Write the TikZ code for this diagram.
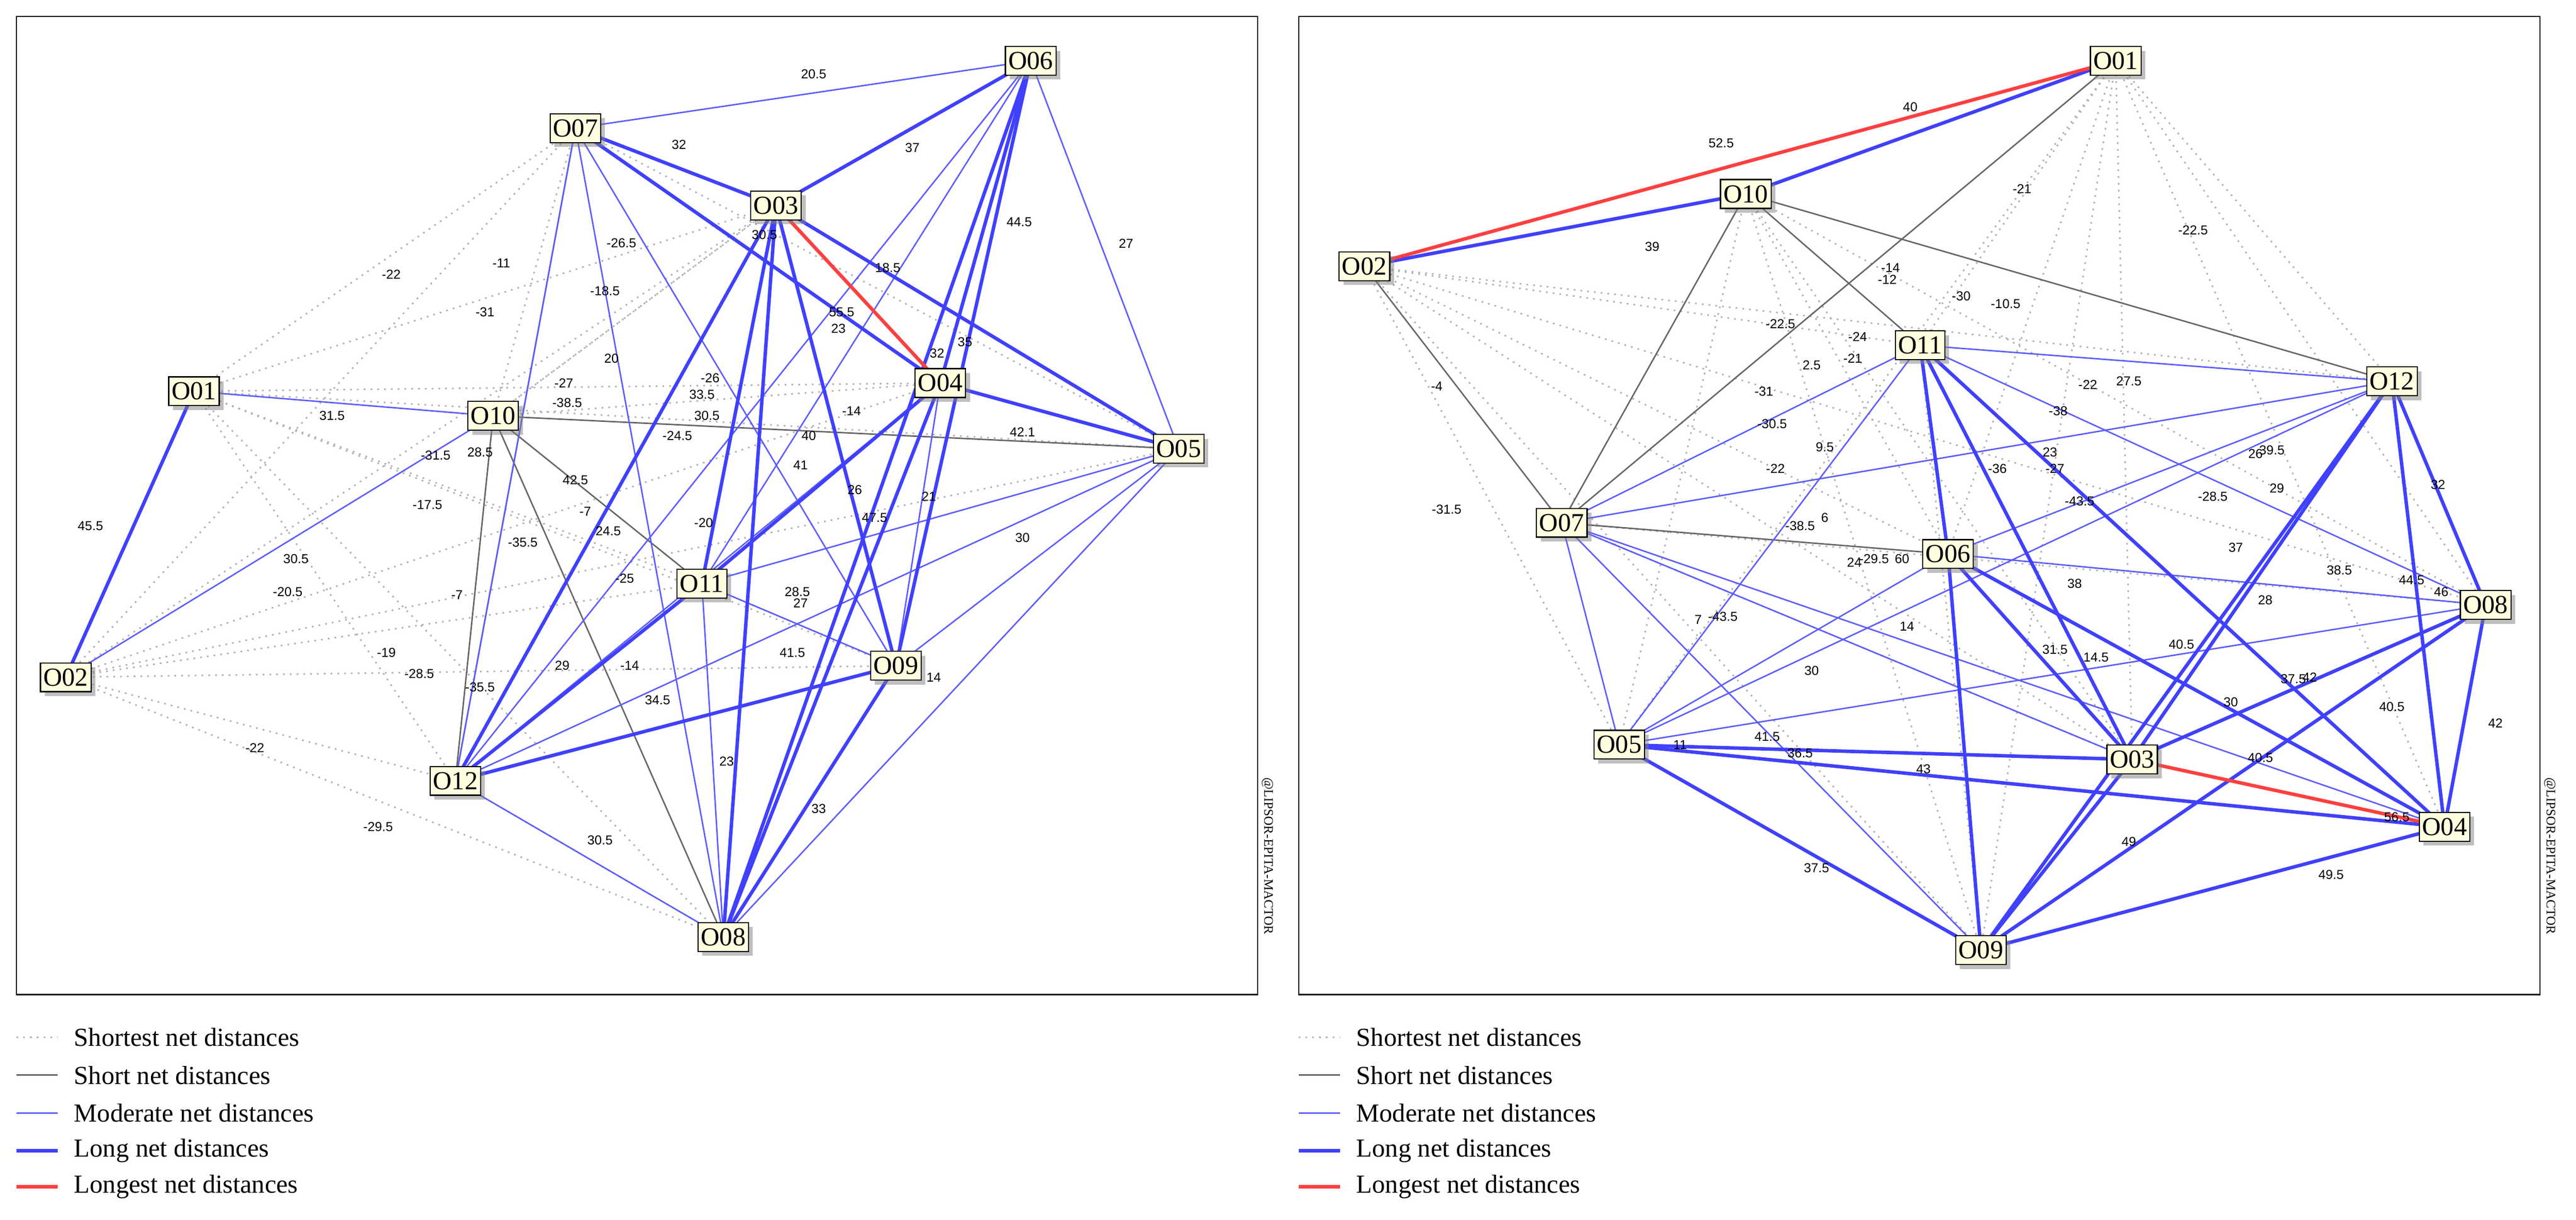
\documentclass[tikz,border=0pt]{standalone}
\usepackage{fontspec}
\setmainfont{Liberation Serif}
\newfontfamily\lblfont{Liberation Sans}
\usetikzlibrary{shadows}
\definecolor{boxfill}{HTML}{FFFFE0}
\definecolor{netblue}{HTML}{4040FF}
\definecolor{netred}{HTML}{FF4040}
\begin{document}
\begin{tikzpicture}[x=0.04cm,y=-0.04cm,
  vertex/.style={draw=black,thick,fill=boxfill,inner sep=2pt,minimum height=0.7cm,
    font=\fontsize{18}{18}\selectfont,drop shadow={shadow xshift=3pt,shadow yshift=-3pt,opacity=0.5}},
  shortest/.style={gray!60,line width=1.1pt,dash pattern=on 1.2pt off 3.5pt},
  short/.style={gray!80!black,line width=1pt},
  moderate/.style={netblue!85,line width=1pt},
  long/.style={netblue,line width=2.4pt},
  longest/.style={netred,line width=2.4pt},
  val/.style={font=\lblfont\fontsize{9}{9}\selectfont,inner sep=1pt}]
\tikzset{legtext/.style={font=\fontsize{18}{18}\selectfont,anchor=west}}
\useasboundingbox (0,0) rectangle (1567,742);
\draw[thick] (10,10) rectangle (765,605);
\draw[thick] (790,10) rectangle (1545,605);
% left panel
\node (l1) at (118,238) {};
\node (l2) at (40,412) {};
\node (l3) at (472,125) {};
\node (l4) at (572,233) {};
\node (l5) at (717,273) {};
\node (l6) at (627,37) {};
\node (l7) at (350,78) {};
\node (l8) at (440,570) {};
\node (l9) at (545,405) {};
\node (l10) at (300,253) {};
\node (l11) at (427,355) {};
\node (l12) at (277,475) {};
\foreach \a/\b in {1/7,1/3,1/4,1/11,1/12,1/8,1/9,2/7,2/3,2/4,2/11,2/9,2/12,2/8,
  7/4,7/5,10/3,10/4,12/11,3/10,7/10,11/9,2/5,1/5,12/8}
  \draw[shortest] (l\a.center) -- (l\b.center);
\foreach \a/\b in {7/12,10/5,10/11,10/8,10/12}
  \draw[short] (l\a.center) -- (l\b.center);
\foreach \a/\b in {7/6,1/10,2/10,7/8,7/9,7/12,6/11,6/12,6/5,3/5,5/11,5/12,5/8,5/9,
  11/9,12/8,11/8,4/12,4/9,6/9}
  \draw[moderate] (l\a.center) -- (l\b.center);
\foreach \a/\b in {1/2,7/3,7/4,3/6,3/5,6/4,6/9,6/8,4/5,4/11,4/8,3/12,3/11,3/8,3/9,11/12,12/9,9/8}
  \draw[long] (l\a.center) -- (l\b.center);
\draw[longest] (l3.center) -- (l4.center);
\node[vertex] (L01) at (l1) {O01};
\node[vertex] (L02) at (l2) {O02};
\node[vertex] (L03) at (l3) {O03};
\node[vertex] (L04) at (l4) {O04};
\node[vertex] (L05) at (l5) {O05};
\node[vertex] (L06) at (l6) {O06};
\node[vertex] (L07) at (l7) {O07};
\node[vertex] (L08) at (l8) {O08};
\node[vertex] (L09) at (l9) {O09};
\node[vertex] (L10) at (l10) {O10};
\node[vertex] (L11) at (l11) {O11};
\node[vertex] (L12) at (l12) {O12};
\foreach \x/\y/\t in {495/45/20.5,413/88/32,555/90/37,620/135/44.5,685/148/27,
  55/320/45.5,180/340/30.5,175/360/-20.5,238/167/-22,305/160/-11,295/190/-31,
  378/148/-26.5,368/177/-18.5,372/218/20,343/233/-27,345/245/-38.5,202/253/31.5,
  292/275/28.5,265/277/-31.5,260/307/-17.5,350/292/42.5,356/311/-7,370/323/24.5,
  318/330/-35.5,380/352/-25,278/362/-7,235/397/-19,255/410/-28.5,292/418/-35.5,
  342/405/29,383/405/-14,400/426/34.5,155/455/-22,230/503/-29.5,365/511/30.5,
  442/463/23,498/492/33,540/163/18.5,512/190/55.5,510/200/23,570/215/32,587/208/35,
  622/263/42.1,518/250/-14,492/265/40,487/283/41,412/265/-24.5,427/240/33.5,
  430/253/30.5,432/230/-26,520/298/26,532/315/47.5,565/302/21,622/327/30,
  428/318/-20,485/360/28.5,487/367/27,482/397/41.5,568/412/14,465/143/30.5}
  \node[val] (lv\x) at (\x,\y) {\t};
% right panel
\node (r1) at (1287,37) {};
\node (r2) at (830,162) {};
\node (r3) at (1297,462) {};
\node (r4) at (1487,503) {};
\node (r5) at (985,453) {};
\node (r6) at (1185,337) {};
\node (r7) at (950,318) {};
\node (r8) at (1512,368) {};
\node (r9) at (1205,578) {};
\node (r10) at (1062,118) {};
\node (r11) at (1168,210) {};
\node (r12) at (1455,232) {};
\foreach \a/\b in {1/11,1/6,1/3,1/12,1/8,1/4,1/5,1/9,2/11,2/6,2/12,2/5,2/3,2/8,2/9,
  10/6,10/5,10/3,10/9,10/8,7/3,11/9,12/9,7/8}
  \draw[shortest] (r\a.center) -- (r\b.center);
\foreach \a/\b in {1/7,10/7,10/11,10/12,2/7,7/6}
  \draw[short] (r\a.center) -- (r\b.center);
\foreach \a/\b in {11/12,11/7,11/5,11/8,12/7,12/6,12/5,7/5,7/9,7/3,7/4,5/8,6/8,6/5}
  \draw[moderate] (r\a.center) -- (r\b.center);
\foreach \a/\b in {2/10,10/1,11/6,11/3,11/4,12/3,12/9,12/8,12/4,8/4,8/3,8/9,6/9,6/3,
  6/4,5/3,5/4,5/9,9/4,9/3}
  \draw[long] (r\a.center) -- (r\b.center);
\draw[longest] (r2.center) -- (r1.center);
\draw[longest] (r3.center) -- (r4.center);
\node[vertex] (R01) at (r1) {O01};
\node[vertex] (R02) at (r2) {O02};
\node[vertex] (R03) at (r3) {O03};
\node[vertex] (R04) at (r4) {O04};
\node[vertex] (R05) at (r5) {O05};
\node[vertex] (R06) at (r6) {O06};
\node[vertex] (R07) at (r7) {O07};
\node[vertex] (R08) at (r8) {O08};
\node[vertex] (R09) at (r9) {O09};
\node[vertex] (R10) at (r10) {O10};
\node[vertex] (R11) at (r11) {O11};
\node[vertex] (R12) at (r12) {O12};
\foreach \x/\y/\t in {1162/65/40,1047/87/52.5,1005/150/39,1230/115/-21,1334/140/-22.5,
  1193/180/-30,1220/185/-10.5,1148/170/-12,1150/163/-14,1130/205/-24,1127/218/-21,
  1083/197/-22.5,1102/222/2.5,1078/258/-30.5,1073/238/-31,1110/272/9.5,1080/285/-22,
  1110/315/6,1095/320/-38.5,1140/340/-29.5,1157/340/60,1128/342/24,874/235/-4,
  880/310/-31.5,1270/234/-22,1295/232/27.5,1252/250/-38,1215/285/-36,1247/275/23,
  1250/285/-27,1265/305/-43.5,1346/302/-28.5,1372/276/26,1382/274/39.5,1385/297/29,
  1483/295/32,1360/333/37,1423/347/38.5,1467/353/44.5,1485/360/46,1378/365/28,
  1262/355/38,1250/395/31.5,1275/400/14.5,1327/392/40.5,1395/413/37.5,1405/412/42,
  1455/430/40.5,1518/440/42,1357/427/30,1160/381/14,1102/408/30,1033/377/7,
  1048/375/-43.5,1075/448/41.5,1095/458/36.5,1022/453/11,1170/468/43,1375/461/40.5,
  1458/497/56.5,1295/512/49,1105/528/37.5,1418/532/49.5}
  \node[val] (rv\x) at (\x,\y) {\t};
% watermarks
\node[rotate=-90,anchor=west,font=\fontsize{9}{9}\selectfont] (wl) at (771,470) {@LIPSOR-EPITA-MACTOR};
\node[rotate=-90,anchor=west,font=\fontsize{9}{9}\selectfont] (wr) at (1551,470) {@LIPSOR-EPITA-MACTOR};
% legends
\foreach \o in {0,780}{
  \coordinate (s\o) at (\o+10,631);
  \draw[shortest] (s\o) -- ++(25,0);
  \draw[short] (\o+10,654) -- ++(25,0);
  \draw[moderate] (\o+10,677) -- ++(25,0);
  \draw[long] (\o+10,700) -- ++(25,0);
  \draw[longest] (\o+10,722) -- ++(25,0);
  \node[legtext] (t1\o) at (\o+42,631) {Shortest net distances};
  \node[legtext] (t2\o) at (\o+42,654) {Short net distances};
  \node[legtext] (t3\o) at (\o+42,677) {Moderate net distances};
  \node[legtext] (t4\o) at (\o+42,700) {Long net distances};
  \node[legtext] (t5\o) at (\o+42,722) {Longest net distances};
}
\end{tikzpicture}
\end{document}
